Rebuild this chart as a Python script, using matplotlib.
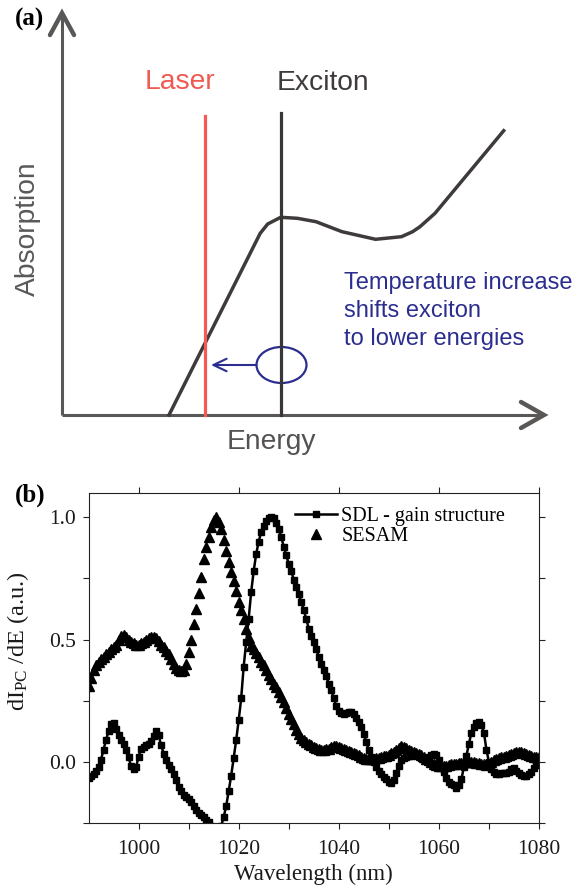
import numpy as np
import matplotlib
matplotlib.use("Agg")
import matplotlib.pyplot as plt
from matplotlib.patches import Ellipse

plt.rcParams['mathtext.fontset'] = 'custom'
plt.rcParams['mathtext.rm'] = 'Liberation Serif'
plt.rcParams['mathtext.it'] = 'Liberation Serif:italic'

# ---- panel (a): schematic, coordinates relative to the axis origin ----
curve_energy = [107, 198.2, 205.7, 218.7, 235.4, 254, 280, 313.5, 339.5, 350.6, 358, 373, 441.7]
curve_absorption = [0, 181.7, 191, 197.7, 196.7, 193.3, 183.3, 175.7, 178.3, 183.3, 188.3, 201.7, 284.3]
laser_energy = 142.5
laser_top = 299
exciton_energy = 219
exciton_top = 302
shift_target = 149
shift_level = 50
note_lines = ["Temperature increase", "shifts exciton", "to lower energies"]

# ---- panel (b): photocurrent derivative ----
wavelength = np.arange(990, 1080.5, 0.5)

sesam = [
    0.31, 0.345, 0.375, 0.395, 0.41, 0.42, 0.43, 0.44, 0.45, 0.46,
    0.47, 0.48, 0.50, 0.515, 0.52, 0.51, 0.50, 0.49, 0.485, 0.48,
    0.48, 0.485, 0.49, 0.50, 0.505, 0.51, 0.51, 0.505, 0.495, 0.48,
    0.47, 0.455, 0.44, 0.42, 0.40, 0.385, 0.375, 0.37, 0.375, 0.40,
    0.45, 0.50, 0.565, 0.625, 0.69, 0.755, 0.83, 0.88, 0.92, 0.96,
    0.99, 1.0, 0.98, 0.95, 0.905, 0.86, 0.815, 0.775, 0.74, 0.70,
    0.655, 0.62, 0.585, 0.545, 0.505, 0.475, 0.46, 0.445, 0.43, 0.41,
    0.395, 0.375, 0.355, 0.34, 0.32, 0.305, 0.285, 0.265, 0.245, 0.22,
    0.195, 0.175, 0.155, 0.13, 0.115, 0.10, 0.09, 0.082, 0.075, 0.068,
    0.062, 0.057, 0.053, 0.05, 0.05, 0.052, 0.055, 0.06, 0.065, 0.066,
    0.062, 0.058, 0.054, 0.05, 0.045, 0.04, 0.036, 0.032, 0.027, 0.022,
    0.017, 0.014, 0.012, 0.012, 0.013, 0.015, 0.018, 0.021, 0.023, 0.026,
    0.03, 0.036, 0.042, 0.05, 0.058, 0.064, 0.062, 0.056, 0.05, 0.044,
    0.04, 0.036, 0.033, 0.028, 0.02, 0.013, 0.007, 0.0, -0.006, -0.012,
    -0.016, -0.018, -0.017, -0.014, -0.011, -0.009, -0.008, -0.007, -0.005, -0.003,
    -0.001, 0.0, 0.0, 0.0, 0.0, -0.002, -0.004, -0.006, -0.008, -0.01,
    -0.006, 0.0, 0.007, 0.012, 0.016, 0.019, 0.022, 0.025, 0.028, 0.032,
    0.036, 0.04, 0.041, 0.04, 0.038, 0.034, 0.03, 0.025, 0.022, 0.02,
    0.02,
]

sdl = [
    -0.065, -0.058, -0.048, -0.035, -0.02, 0.01, 0.05, 0.09, 0.125, 0.155,
    0.16, 0.135, 0.11, 0.09, 0.075, 0.05, 0.02, -0.015, -0.028, -0.02,
    0.02, 0.055, 0.06, 0.068, 0.075, 0.088, 0.105, 0.125, 0.11, 0.07,
    0.035, 0.01, -0.01, -0.03, -0.05, -0.075, -0.10, -0.12, -0.133, -0.142,
    -0.152, -0.165, -0.18, -0.195, -0.208, -0.218, -0.226, -0.236, -0.245, -0.26,
    -0.275, -0.285, -0.28, -0.26, -0.225, -0.18, -0.12, -0.055, 0.015, 0.09,
    0.17, 0.26, 0.39, 0.49, 0.585, 0.695, 0.78, 0.85, 0.90, 0.94,
    0.965, 0.985, 0.995, 1.0, 0.995, 0.975, 0.95, 0.92, 0.88, 0.845,
    0.81, 0.78, 0.745, 0.715, 0.685, 0.655, 0.62, 0.585, 0.545, 0.515,
    0.49, 0.46, 0.43, 0.40, 0.375, 0.35, 0.32, 0.295, 0.26, 0.23,
    0.21, 0.2, 0.198, 0.2, 0.205, 0.203, 0.195, 0.182, 0.165, 0.145,
    0.115, 0.08, 0.05, 0.02, 0.0, -0.02, -0.035, -0.048, -0.06, -0.07,
    -0.08, -0.086, -0.075, -0.045, -0.015, 0.008, 0.015, 0.02, 0.023, 0.026,
    0.028, 0.03, 0.025, 0.018, 0.015, 0.018, 0.022, 0.03, 0.034, 0.03,
    0.01, -0.015, -0.04, -0.065, -0.08, -0.088, -0.095, -0.105, -0.095, -0.07,
    -0.02, 0.025, 0.075, 0.12, 0.145, 0.16, 0.165, 0.15, 0.12, 0.05,
    0.0, -0.03, -0.042, -0.05, -0.048, -0.045, -0.045, -0.045, -0.04, -0.03,
    -0.024, -0.035, -0.045, -0.052, -0.058, -0.056, -0.05, -0.04, -0.025, -0.012,
    0.003,
]

fig = plt.figure(figsize=(5.86, 8.91), dpi=100)

# ================= (a) =================
ax_a = fig.add_axes([0, 1 - 470 / 891, 1, 470 / 891])
ax_a.set_xlim(-62, 524)
ax_a.set_ylim(-55, 415)
ax_a.axis('off')

axis_grey = '#5a5757'
ax_a.plot([0, 0], [0, 400], color=axis_grey, lw=2.2, solid_capstyle='butt')
ax_a.plot([0, 478], [0, 0], color=axis_grey, lw=2.2, solid_capstyle='butt')
# arrow heads
ax_a.plot([-12, 0, 12], [380, 402, 380], color=axis_grey, lw=3.2,
          solid_joinstyle='miter', solid_capstyle='round')
ax_a.plot([459, 482, 459], [13, 0, -13], color=axis_grey, lw=3.2,
          solid_joinstyle='miter', solid_capstyle='round')

ax_a.plot(curve_energy, curve_absorption, color='#3f3b3b', lw=2.5,
          solid_joinstyle='round')
ax_a.plot([laser_energy, laser_energy], [0, laser_top], color='#f25a55', lw=2.3)
ax_a.plot([exciton_energy, exciton_energy], [0, exciton_top], color='#3a3636', lw=2.3)

blue = '#2b2e8f'
ax_a.add_patch(Ellipse((exciton_energy + 0.5, shift_level), 50, 36, fill=False,
                       ec=blue, lw=1.6))
ax_a.annotate('', xy=(shift_target, shift_level), xytext=(exciton_energy - 24.5, shift_level),
              arrowprops=dict(arrowstyle='->,head_length=0.95,head_width=0.45',
                              color=blue, lw=1.5, shrinkA=0, shrinkB=0))

sans = 'Liberation Sans'
ax_a.text(118.3, 333, 'Laser', color='#ef5a52', fontsize=20.3, family=sans,
          ha='center', va='center')
ax_a.text(261.4, 332, 'Exciton', color='#3f3b3b', fontsize=20.3, family=sans,
          ha='center', va='center')
ax_a.text(-34, 186.5, 'Absorption', color='#5b5858', fontsize=20.3, family=sans,
          ha='center', va='center', rotation=90)
ax_a.text(209.4, -27, 'Energy', color='#555252', fontsize=20.3, family=sans,
          ha='center', va='center')
for i, line in enumerate(note_lines):
    ax_a.text(282, 131.7 - 28 * i, line, color=blue, fontsize=17, family=sans,
              ha='left', va='center')

fig.text(15 / 586, 1 - 19 / 891, '(a)', fontsize=18, fontweight='bold',
         family='Liberation Serif', ha='left', va='center')

# ================= (b) =================
serif = 'Liberation Serif'
ax_b = fig.add_axes([88.5 / 586, (891 - 823.3) / 891, 450.5 / 586, 330.6 / 891])
ax_b.plot(wavelength, sdl, '-s', color='black', lw=1.8, ms=5,
          label='SDL - gain structure')
ax_b.plot(wavelength, sesam, '^', color='black', ms=6.5, ls='none', label='SESAM')

ax_b.set_xlim(990, 1080)
ax_b.set_ylim(-0.25, 1.1)
ax_b.set_xticks([1000, 1020, 1040, 1060, 1080])
ax_b.set_xticks([1010, 1030, 1050, 1070], minor=True)
ax_b.set_yticks([0.0, 0.5, 1.0])
ax_b.set_yticklabels(['0.0', '0.5', '1.0'])
ax_b.set_yticks([-0.25, 0.25, 0.75], minor=True)
ax_b.tick_params(which='both', direction='out', color='#222222', width=0.8,
                 labelsize=15.5, labelcolor='#1a1a1a', right=True, top=True)
ax_b.tick_params(which='major', length=4)
ax_b.tick_params(which='minor', length=4, top=False)
ax_b.tick_params(axis='x', pad=8)
ax_b.tick_params(axis='y', pad=5)
for lab in ax_b.get_xticklabels() + ax_b.get_yticklabels():
    lab.set_family(serif)
for sp in ax_b.spines.values():
    sp.set_linewidth(0.8)
    sp.set_color('#222222')

ax_b.set_xlabel('Wavelength (nm)', fontsize=16.5, family=serif, color='#1a1a1a')
ax_b.xaxis.set_label_coords(0.5, -0.156)
ax_b.xaxis.label.set_va('center')
ax_b.set_ylabel(r'dI$_{\mathrm{PC}}$ /dE (a.u.)', fontsize=17.5, family=serif,
                color='#1a1a1a')
ax_b.yaxis.set_label_coords(-0.1565, 0.551)
ax_b.yaxis.label.set_va('center')

ax_b.legend(loc='upper left', bbox_to_anchor=(0.458, 0.957), frameon=False,
            numpoints=1, handlelength=2.1, handletextpad=0.2, labelspacing=0.05,
            borderpad=0, borderaxespad=0, prop={'family': serif, 'size': 14.5})

fig.text(15 / 586, 1 - 495 / 891, '(b)', fontsize=18, fontweight='bold',
         family=serif, ha='left', va='center')

fig.savefig('out.png', dpi=100)
